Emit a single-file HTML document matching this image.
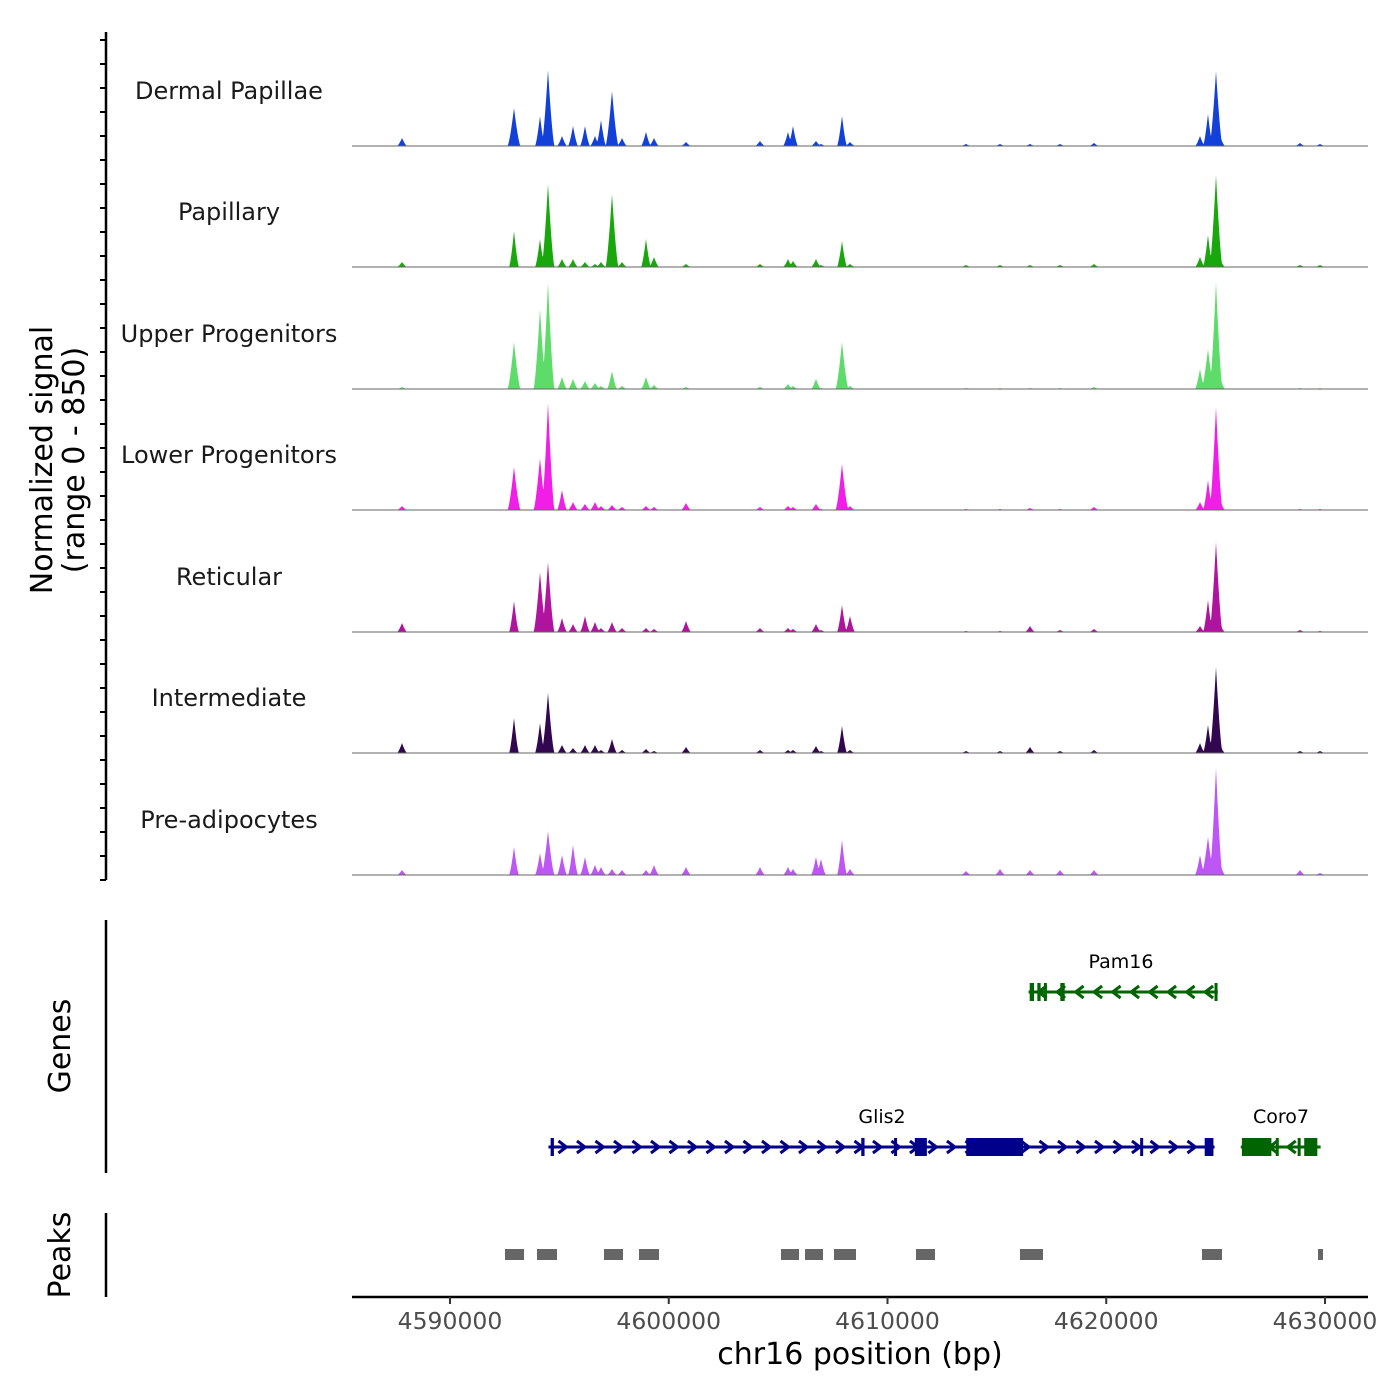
<!DOCTYPE html>
<html><head><meta charset="utf-8"><style>
body{margin:0;background:#fff}
svg{display:block;font-family:"DejaVu Sans","Liberation Sans",sans-serif}
</style></head><body>
<svg id="chart" width="1400" height="1400" viewBox="0 0 1400 1400" xmlns="http://www.w3.org/2000/svg">
<g id="tracks"></g>
<g id="axes"></g>
<g id="genes"></g>
<g id="peaks"></g>
<text transform="translate(52,460) rotate(-90)" text-anchor="middle" font-size="30" fill="#000">Normalized signal</text>
<text transform="translate(84,460) rotate(-90)" text-anchor="middle" font-size="30" fill="#000">(range 0 - 850)</text>
<text transform="translate(70,1046) rotate(-90)" text-anchor="middle" font-size="30" fill="#000">Genes</text>
<text transform="translate(70,1255) rotate(-90)" text-anchor="middle" font-size="30" fill="#000">Peaks</text>
<text x="860" y="1364" text-anchor="middle" font-size="30" fill="#000">chr16 position (bp)</text>
</svg>
<script>
const trackNames=["Dermal Papillae","Papillary","Upper Progenitors","Lower Progenitors","Reticular","Intermediate","Pre-adipocytes"];
const trackColors=["#1240d8","#18a80c","#5edc6a","#f01ee6","#b0149e","#33074f","#be55f5"];
const featurePos=[4587806,4592926,4594114,4594480,4595120,4595623,4596171,4596629,4596903,4597406,4597863,4598960,4599326,4600789,4604171,4605451,4605680,4606731,4607920,4608286,4616514,4619440,4624286,4624651,4625017,4625200,4615143,4613589,4617886,4628857,4629771,4606960];
const sigDP=[64,304,240,608,80,160,160,80,208,440,64,112,64,32,40,112,160,40,240,32,16,24,80,256,600,80,16,16,16,24,16,16];
const sigPap=[40,288,224,664,64,64,40,24,40,584,40,224,80,24,24,64,48,64,208,24,16,24,80,256,736,64,16,16,16,16,16,16];
const sigUP=[16,376,640,848,96,80,64,48,24,144,24,96,32,16,16,40,24,80,376,24,8,16,160,320,856,96,8,8,8,8,8,8];
const sigLP=[32,344,416,856,160,64,48,64,32,40,24,32,24,56,24,32,24,48,368,32,16,24,64,240,824,80,8,8,8,8,8,8];
const sigRet=[72,248,480,560,112,64,128,80,32,80,32,32,24,88,32,32,24,64,216,128,48,24,48,256,720,64,8,8,16,16,8,16];
const sigInt=[80,280,240,480,64,40,64,64,24,112,24,32,16,48,24,24,24,56,216,24,48,24,80,224,688,64,16,16,16,16,16,16];
const sigPre=[40,224,176,352,160,240,144,80,64,48,40,40,80,64,64,64,48,144,280,48,40,40,160,304,856,96,48,32,40,40,16,128];
const series=[sigDP,sigPap,sigUP,sigLP,sigRet,sigInt,sigPre];
const xTicks=[4590000,4600000,4610000,4620000,4630000];
const peakStarts=[4592514,4593977,4597040,4598640,4605131,4606229,4607554,4611303,4616057,4624377,4629680];
const peakEnds=[4593383,4594891,4597909,4599554,4605954,4607051,4608560,4612171,4617109,4625291,4629909];
const glis2Exons=[[4594600,4594750],[4608800,4608950],[4610300,4610420],[4611250,4611800],[4613600,4616200],[4621550,4621650],[4624500,4624900]];
const pam16Exons=[[4616500,4616700],[4616850,4617000],[4617150,4617250],[4617900,4618100],[4624950,4625050]];
const coro7Exons=[[4626200,4627550],[4627750,4627850],[4628750,4628850],[4629050,4629650]];

const NS="http://www.w3.org/2000/svg";
const xs=v=>450+(v-4590000)*875/40000;
const baselines=[146,267,389,510,632,753,875];
const yScale=110/880;
function mk(tag,attrs,parent){const e=document.createElementNS(NS,tag);for(const k in attrs)e.setAttribute(k,attrs[k]);parent.appendChild(e);return e;}
const tracks=document.getElementById('tracks');
series.forEach((vals,t)=>{
  const b=baselines[t];
  const g=mk('g',{},tracks);
  
  
  let pts=[[352,b]];
  for(let px=352;px<=1325;px+=0.5){
    let m=0;
    featurePos.forEach((p,i)=>{const d=Math.abs(px-xs(p));const w=vals[i]>300?6.5:5;const h=vals[i]*Math.pow(Math.max(0,1-d/w),1.4);if(h>m)m=h;});
    pts.push([px,b-m*yScale]);
  }
  pts.push([1325,b]);
  const area=mk('polygon',{points:pts.map(p=>p[0].toFixed(1)+','+p[1].toFixed(1)).join(' '),fill:trackColors[t]},g);
  
  
  const bl=mk('line',{x1:352,x2:1368,y1:b,y2:b,stroke:'#666','stroke-width':1},g);
  
  
  const lab=mk('text',{x:229,y:b-47,'text-anchor':'middle','font-size':24,fill:'#1a1a1a'},g);
  lab.textContent=trackNames[t];
  
  
});
const axes=document.getElementById('axes');
mk('line',{x1:106,x2:106,y1:32,y2:880,stroke:'#000','stroke-width':2.5},axes);
for(let i=0;i<=35;i++){const y=40+i*(880-40)/35;mk('line',{x1:100,x2:106,y1:y,y2:y,stroke:'#000','stroke-width':2},axes);}
mk('line',{x1:106,x2:106,y1:920,y2:1173,stroke:'#000','stroke-width':2.5},axes);
mk('line',{x1:106,x2:106,y1:1213,y2:1297,stroke:'#000','stroke-width':2.5},axes);
mk('line',{x1:352,x2:1368,y1:1297,y2:1297,stroke:'#000','stroke-width':2.5},axes);
xTicks.forEach(v=>{
  mk('line',{x1:xs(v),x2:xs(v),y1:1297,y2:1304,stroke:'#333','stroke-width':2},axes);
  const t=mk('text',{x:xs(v),y:1329,'text-anchor':'middle','font-size':23.5,fill:'#4d4d4d'},axes);
  t.textContent=v;
  
  
});
const genes=document.getElementById('genes');
function gene(name,start,end,y,exons,color,dir,labelX){
  const g=mk('g',{},genes);
  
  
  mk('line',{x1:xs(start),x2:xs(end),y1:y,y2:y,stroke:color,'stroke-width':3},g);
  for(let x=xs(start)+14;x<xs(end)-6;x+=18.5){
    const d=dir*4;
    mk('polyline',{points:`${x-d},${y-6} ${x+d},${y} ${x-d},${y+6}`,fill:'none',stroke:color,'stroke-width':3},g);
  }
  exons.forEach(e=>{const w=Math.max(3,xs(e[1])-xs(e[0]));mk('rect',{x:xs(e[0]),y:y-9,width:w,height:18,fill:color},g);});
  const t=mk('text',{x:labelX,y:y-24,'text-anchor':'middle','font-size':19,fill:'#000'},g);
  t.textContent=name;
  
  
}
gene('Pam16',4616450,4625100,992,pam16Exons,'#006400',-1,1121);
gene('Glis2',4594500,4624950,1147,glis2Exons,'#00008b',1,882);
gene('Coro7',4626150,4629800,1147,coro7Exons,'#006400',-1,1281);
const peaks=document.getElementById('peaks');
peakStarts.forEach((s,i)=>{
  const r=mk('rect',{x:xs(s),y:1249,width:Math.max(4,xs(peakEnds[i])-xs(s)),height:11,fill:'#666'},peaks);
  
  
});
</script>
</body></html>
